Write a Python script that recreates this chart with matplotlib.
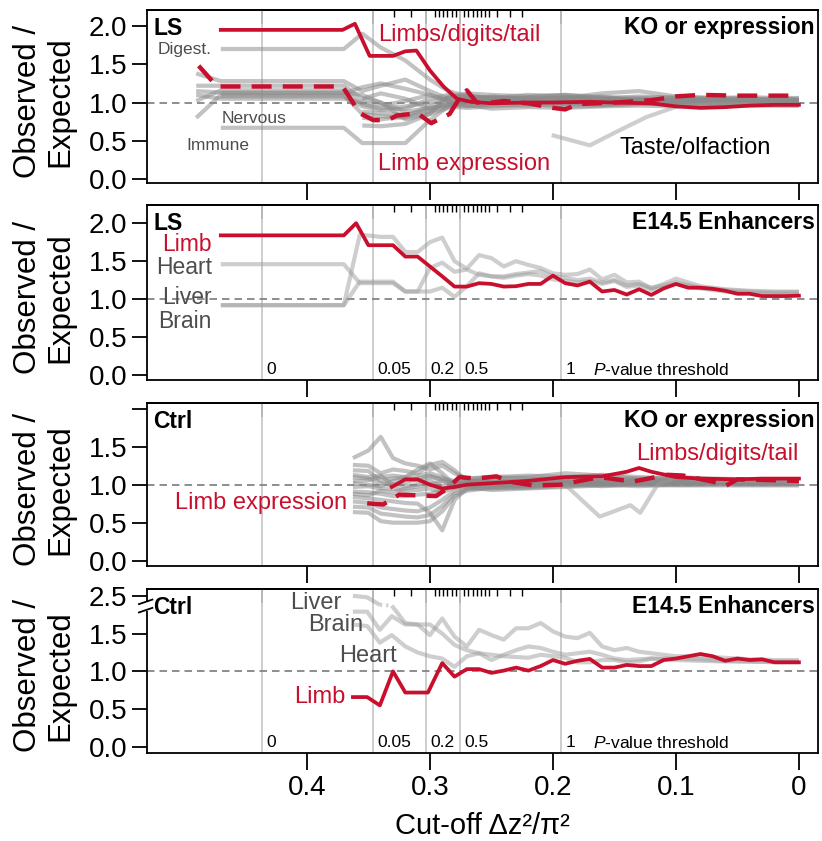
import numpy as np
import matplotlib
matplotlib.use("Agg")
import matplotlib.pyplot as plt
from matplotlib.lines import Line2D
from matplotlib.patches import Rectangle

plt.rcParams['font.family'] = ['Liberation Sans', 'DejaVu Sans']
plt.rcParams['mathtext.fontset'] = 'custom'
plt.rcParams['mathtext.rm'] = 'Liberation Sans'
plt.rcParams['mathtext.it'] = 'Liberation Sans:italic'

nan = np.nan

# ---------------- shared axis data ----------------
x_ticks = [0.4, 0.3, 0.2, 0.1, 0.0]
x_tick_labels = ['0.4', '0.3', '0.2', '0.1', '0']
pval_pos = [0.4366, 0.3463, 0.3033, 0.2756, 0.1935]
pval_labels = ['0', '0.05', '0.2', '0.5', '1']
pval_minor = [0.3293, 0.3154, 0.2959, 0.2927, 0.2894, 0.2862, 0.2821, 0.2789,
              0.2724, 0.2691, 0.2650, 0.2618, 0.2585, 0.2553, 0.2520, 0.2455,
              0.2350, 0.2252]

# ---------------- panel 1: LS, KO or expression ----------------
p1_gx = [0.49, 0.47, 0.37, 0.355, 0.34, 0.32, 0.30, 0.285, 0.27, 0.25, 0.22,
         0.19, 0.16, 0.13, 0.10, 0.07, 0.04, 0.02, 0.0]
p1_gray = [
    [nan, 1.70, 1.70, 1.90, 1.72, 1.55, 1.30, 1.15, 1.08, 1.06, 1.10, 1.08, 1.05, 1.04, 1.05, 1.03, 1.04, 1.03, 1.03],
    [1.38, 1.28, 1.28, 1.15, 1.22, 1.30, 1.15, 1.05, 1.04, 1.08, 1.05, 1.06, 1.12, 1.15, 1.08, 1.06, 1.05, 1.05, 1.05],
    [1.22, 1.22, 1.22, 1.05, 1.12, 1.05, 0.92, 0.98, 1.02, 1.00, 1.03, 0.98, 1.00, 1.02, 1.00, 1.01, 1.00, 1.00, 1.00],
    [1.02, 1.16, 1.16, 0.98, 0.92, 0.95, 1.00, 1.06, 1.10, 1.05, 1.07, 1.10, 1.06, 1.03, 1.02, 1.04, 1.02, 1.02, 1.02],
    [1.15, 1.13, 1.13, 1.10, 1.00, 0.88, 0.93, 0.97, 0.95, 0.97, 0.96, 0.99, 0.97, 0.98, 0.99, 0.98, 0.98, 0.98, 0.98],
    [0.80, 1.10, 1.10, 0.85, 0.82, 0.80, 0.88, 0.95, 0.93, 0.95, 0.98, 0.95, 0.96, 0.99, 0.97, 0.97, 0.96, 0.96, 0.96],
    [nan, 0.67, 0.67, 0.47, 0.47, 0.47, 0.77, 0.95, 1.00, 1.02, 0.99, 1.02, 1.03, 1.00, 1.01, 1.00, 1.01, 1.01, 1.01],
    [nan, nan, nan, 0.88, 0.86, 0.84, 0.90, 1.00, 0.97, 0.92, 0.94, 0.93, 0.95, 0.96, 0.95, 0.97, 0.97, 0.97, 0.97],
    [nan, nan, nan, 0.70, 0.69, 0.72, 0.85, 0.93, 1.05, 1.07, 1.04, 1.05, 1.08, 1.02, 1.04, 1.03, 1.03, 1.03, 1.03],
    [nan, nan, nan, 1.05, 1.00, 0.78, 0.85, 1.08, 1.12, 1.10, 1.08, 1.10, 1.07, 1.06, 1.07, 1.06, 1.07, 1.06, 1.06],
    [nan, 1.12, 1.12, 1.20, 1.25, 1.18, 1.10, 1.02, 1.00, 1.03, 1.06, 1.04, 1.03, 1.05, 1.03, 1.04, 1.03, 1.03, 1.03],
    [nan, 1.08, 1.08, 0.95, 0.90, 0.92, 1.05, 1.10, 1.06, 1.02, 1.00, 1.03, 1.01, 1.02, 1.01, 1.02, 1.02, 1.01, 1.01],
    [1.10, 1.05, 1.05, 1.00, 0.96, 1.02, 1.10, 1.02, 0.96, 0.98, 1.01, 1.00, 0.99, 1.00, 0.99, 1.00, 0.99, 0.99, 0.99],
    [nan, nan, nan, 0.80, 0.78, 0.82, 0.95, 1.05, 1.08, 1.05, 1.02, 1.07, 1.05, 1.08, 1.06, 1.05, 1.05, 1.04, 1.04],
]
p1_taste_x = [0.201, 0.170, 0.148, 0.124, 0.099, 0.07, 0.04, 0.0]
p1_taste_y = [0.575, 0.44, 0.62, 0.81, 0.95, 0.98, 0.97, 0.96]
p1_limbs_x = [0.47, 0.371, 0.361, 0.349, 0.33, 0.32, 0.311, 0.30, 0.289, 0.278, 0.267,
              0.25, 0.22, 0.20, 0.17, 0.15, 0.12, 0.10, 0.08, 0.06, 0.04, 0.02, 0.0]
p1_limbs_y = [1.95, 1.95, 2.03, 1.61, 1.61, 1.67, 1.68, 1.42, 1.21, 1.05, 1.01,
              0.99, 1.00, 1.00, 1.01, 1.00, 0.99, 0.95, 0.93, 0.94, 0.96, 0.97, 0.97]
p1_expr_x = [0.488, 0.473, 0.371, 0.357, 0.346, 0.334, 0.327, 0.31, 0.299, 0.284, 0.277,
             0.270, 0.262, 0.25, 0.24, 0.22, 0.20, 0.19, 0.18, 0.15, 0.12, 0.10, 0.08, 0.05, 0.0]
p1_expr_y = [1.48, 1.21, 1.21, 0.86, 0.77, 0.77, 0.83, 0.86, 0.73, 0.85, 1.03,
             1.16, 1.00, 1.00, 1.02, 0.99, 0.93, 0.91, 0.98, 1.00, 1.03, 1.08, 1.10, 1.09, 1.09]

# ---------------- panel 2: LS, E14.5 Enhancers ----------------
p2_gx = [0.47, 0.37, 0.357, 0.34, 0.33, 0.32, 0.31, 0.30, 0.29, 0.28, 0.27, 0.26, 0.25,
         0.24, 0.23, 0.22, 0.21, 0.20, 0.19, 0.18, 0.17, 0.16, 0.15, 0.14, 0.13, 0.12,
         0.11, 0.10, 0.08, 0.06, 0.04, 0.02, 0.0]
p2_liver = [0.92, 0.92, 1.85, 1.82, 1.82, 1.62, 1.62, 1.75, 1.81, 1.50, 1.40, 1.58, 1.54,
            1.43, 1.50, 1.45, 1.41, 1.34, 1.32, 1.33, 1.39, 1.26, 1.32, 1.22, 1.23, 1.14,
            1.20, 1.27, 1.17, 1.13, 1.11, 1.10, 1.10]
p2_heart = [1.46, 1.46, 1.21, 1.21, 1.21, 1.10, 1.10, 1.41, 1.48, 1.36, 1.39, 1.32, 1.30,
            1.30, 1.33, 1.35, 1.37, 1.30, 1.28, 1.25, 1.27, 1.22, 1.25, 1.18, 1.20, 1.15,
            1.18, 1.22, 1.15, 1.12, 1.10, 1.09, 1.09]
p2_brain = [0.92, 0.92, 1.23, 1.23, 1.23, 1.10, 1.10, 1.10, 1.15, 1.03, 1.17, 1.34, 1.30,
            1.28, 1.31, 1.33, 1.31, 1.26, 1.24, 1.22, 1.24, 1.20, 1.24, 1.16, 1.18, 1.12,
            1.15, 1.20, 1.14, 1.10, 1.08, 1.07, 1.07]
p2_limb_x = [0.47, 0.37, 0.36, 0.35, 0.34, 0.33, 0.32, 0.31, 0.30, 0.29, 0.28, 0.27, 0.26,
             0.25, 0.24, 0.23, 0.22, 0.21, 0.20, 0.19, 0.18, 0.17, 0.16, 0.15, 0.14, 0.13,
             0.12, 0.11, 0.10, 0.09, 0.08, 0.07, 0.06, 0.05, 0.04, 0.03, 0.02, 0.01, 0.0]
p2_limb_y = [1.84, 1.84, 2.00, 1.71, 1.71, 1.71, 1.56, 1.56, 1.43, 1.30, 1.165, 1.165, 1.21,
             1.20, 1.165, 1.17, 1.20, 1.20, 1.31, 1.21, 1.18, 1.23, 1.10, 1.12, 1.06, 1.13,
             1.055, 1.14, 1.20, 1.15, 1.15, 1.135, 1.11, 1.07, 1.07, 1.04, 1.04, 1.04, 1.045]

# ---------------- panel 3: Ctrl, KO or expression ----------------
p3_gx = [0.3626, 0.35, 0.34, 0.33, 0.32, 0.31, 0.30, 0.29, 0.28, 0.27, 0.25, 0.22, 0.19,
         0.16, 0.13, 0.10, 0.07, 0.04, 0.02, 0.0]
p3_gray = [
    [1.35, 1.45, 1.63, 1.35, 1.28, 1.25, 1.20, 1.25, 1.15, 1.08, 1.10, 1.12, 1.10, 1.13, 1.10, 1.08, 1.07, 1.06, 1.06, 1.06],
    [1.26, 1.25, 1.15, 1.20, 1.18, 1.15, 1.26, 1.30, 1.19, 1.05, 1.03, 1.06, 1.08, 1.05, 1.08, 1.06, 1.05, 1.05, 1.05, 1.05],
    [1.19, 1.18, 1.05, 1.08, 1.10, 1.12, 1.15, 1.10, 1.00, 1.02, 1.06, 1.04, 1.02, 1.06, 1.04, 1.05, 1.04, 1.04, 1.04, 1.04],
    [1.13, 1.10, 1.12, 1.00, 0.98, 1.00, 1.05, 0.98, 1.02, 1.06, 1.04, 1.00, 1.05, 1.00, 1.02, 1.03, 1.03, 1.03, 1.03, 1.03],
    [0.97, 0.98, 0.95, 0.95, 0.92, 0.93, 0.95, 0.90, 0.96, 0.98, 1.00, 0.98, 1.00, 1.03, 1.00, 1.02, 1.02, 1.02, 1.02, 1.02],
    [0.91, 0.90, 0.88, 0.85, 0.85, 0.87, 0.88, 0.93, 0.98, 1.00, 0.97, 0.99, 1.02, 0.98, 1.01, 1.00, 1.01, 1.01, 1.01, 1.01],
    [0.84, 0.82, 0.80, 0.78, 0.76, 0.75, 0.63, 0.40, 0.80, 0.95, 0.95, 0.96, 0.98, 1.00, 0.98, 1.00, 1.00, 1.00, 1.00, 1.00],
    [0.78, 0.76, 0.70, 0.68, 0.66, 0.65, 0.70, 0.80, 0.92, 0.97, 0.93, 0.95, 0.97, 0.99, 1.00, 0.99, 0.99, 0.99, 0.99, 0.99],
    [0.71, 0.70, 0.62, 0.60, 0.58, 0.57, 0.60, 0.72, 0.88, 0.94, 0.98, 1.02, 0.99, 1.01, 1.03, 1.02, 1.02, 1.02, 1.02, 1.02],
    [0.64, 0.63, 0.52, 0.50, 0.50, 0.50, 0.52, 0.65, 0.85, 0.92, 0.96, 0.97, 1.00, 1.02, 1.05, 1.03, 1.04, 1.04, 1.04, 1.04],
    [1.05, 1.06, 1.10, 1.12, 1.10, 1.20, 1.28, 1.15, 1.00, 1.05, 1.08, 1.10, 1.15, 1.12, 1.08, 1.10, 1.08, 1.07, 1.07, 1.07],
    [1.02, 1.00, 0.98, 1.05, 1.08, 1.05, 1.10, 1.08, 1.05, 1.08, 1.10, 1.08, 1.06, 1.08, 1.06, 1.07, 1.06, 1.06, 1.06, 1.06],
    [0.88, 0.86, 0.92, 0.90, 0.95, 0.98, 1.00, 1.05, 1.02, 1.00, 1.02, 1.03, 1.05, 1.02, 1.04, 1.03, 1.03, 1.03, 1.03, 1.03],
    [1.10, 1.08, 1.02, 1.00, 1.03, 1.08, 1.12, 1.05, 0.98, 1.03, 1.01, 1.00, 1.03, 1.05, 1.02, 1.04, 1.03, 1.02, 1.02, 1.02],
]
p3_out_x = [0.19, 0.162, 0.137, 0.129, 0.115, 0.10, 0.07, 0.0]
p3_out_y = [1.00, 0.58, 0.73, 0.63, 1.00, 1.10, 1.05, 1.05]
p3_limbs_x = [0.331, 0.32, 0.31, 0.30, 0.29, 0.28, 0.27, 0.25, 0.22, 0.19, 0.16, 0.14,
              0.13, 0.12, 0.10, 0.08, 0.05, 0.03, 0.0]
p3_limbs_y = [0.97, 1.07, 1.07, 1.00, 0.95, 0.97, 1.00, 1.02, 1.05, 1.10, 1.11, 1.17,
              1.22, 1.17, 1.10, 1.08, 1.07, 1.08, 1.08]
p3_expr_x = [0.351, 0.338, 0.325, 0.311, 0.295, 0.286, 0.276, 0.262, 0.246, 0.235, 0.216,
             0.194, 0.162, 0.135, 0.107, 0.094, 0.07, 0.059, 0.05, 0.0]
p3_expr_y = [0.755, 0.74, 0.87, 0.86, 0.85, 0.95, 1.10, 1.08, 1.11, 1.04, 0.99,
             1.00, 1.10, 1.04, 1.13, 1.12, 1.04, 0.99, 1.07, 1.05]

# ---------------- panel 4: Ctrl, E14.5 Enhancers ----------------
p4_gx = [0.3626, 0.351, 0.3407, 0.331, 0.32, 0.31, 0.30, 0.29, 0.28, 0.27, 0.26, 0.25,
         0.24, 0.23, 0.22, 0.21, 0.20, 0.19, 0.18, 0.17, 0.16, 0.15, 0.14, 0.13, 0.12,
         0.10, 0.08, 0.06, 0.04, 0.02, 0.0]
p4_liver_top_x = [0.3626, 0.351, 0.3407]
p4_liver_top_y = [2.00, 1.98, 1.88]
p4_liver_gap_x = [0.3407, 0.331]
p4_liver_gap_y = [1.88, 1.87]
p4_liver = [nan, nan, nan, 1.87, 1.64, 1.62, 1.48, 1.70, 1.46, 1.33, 1.55, 1.48,
            1.42, 1.57, 1.57, 1.64, 1.53, 1.46, 1.44, 1.51, 1.33, 1.28, 1.31, 1.26, 1.24,
            1.20, 1.20, 1.18, 1.16, 1.15, 1.15]
p4_brain = [1.79, 1.79, 1.55, 1.73, 1.62, 1.62, 1.62, 1.50, 1.35, 1.28, 1.24, 1.15,
            1.22, 1.28, 1.33, 1.31, 1.26, 1.22, 1.24, 1.26, 1.22, 1.17, 1.15, 1.16, 1.17,
            1.15, 1.14, 1.13, 1.13, 1.13, 1.13]
p4_heart = [1.62, 1.60, 1.38, 1.48, 1.33, 1.25, 1.20, 1.17, 1.06, 1.20, 1.24, 1.22,
            1.20, 1.19, 1.18, 1.22, 1.20, 1.18, 1.12, 1.12, 1.15, 1.15, 1.12, 1.13, 1.17,
            1.17, 1.16, 1.14, 1.13, 1.12, 1.12]
p4_limb_x = [0.3626, 0.351, 0.3407, 0.33, 0.32, 0.31, 0.3016, 0.29, 0.28, 0.27, 0.26,
             0.25, 0.24, 0.23, 0.22, 0.21, 0.20, 0.19, 0.18, 0.17, 0.16, 0.15, 0.14, 0.13,
             0.12, 0.11, 0.10, 0.09, 0.08, 0.07, 0.06, 0.05, 0.04, 0.03, 0.02, 0.01, 0.0]
p4_limb_y = [0.66, 0.66, 0.55, 1.00, 0.72, 0.72, 0.72, 1.11, 0.93, 1.03, 1.03,
             0.98, 1.01, 1.05, 1.01, 1.07, 1.15, 1.10, 1.14, 1.165, 1.05, 1.05, 1.085, 1.07,
             1.07, 1.15, 1.17, 1.20, 1.23, 1.20, 1.14, 1.17, 1.15, 1.16, 1.12, 1.12, 1.12]

# ---------------- styles ----------------
RED = '#c8102e'
GRAY_LINE = '#9a9a9a'
GRAY_TXT = '#4d4d4d'
G_KW = dict(color=GRAY_LINE, lw=3.0, alpha=0.48, solid_capstyle='butt', solid_joinstyle='round', zorder=2)
GB_KW = dict(color='#8a8a8a', lw=3.0, alpha=0.52, solid_capstyle='butt', solid_joinstyle='round', zorder=2)
RS_KW = dict(color=RED, lw=2.7, solid_joinstyle='round', zorder=4)
RD_KW = dict(color=RED, lw=3.2, ls=(0, (4.5, 2.5)), zorder=4)

W, H = 822, 841
fig = plt.figure(figsize=(W / 100, H / 100), dpi=100)


def add_axes(top, bottom):
    return fig.add_axes([147 / W, 1 - bottom / H, (818 - 147) / W, (bottom - top) / H])


ax1 = add_axes(10, 183)
ax2 = add_axes(205, 380)
ax3 = add_axes(403, 566)
ax4 = add_axes(589, 753)
axes = [ax1, ax2, ax3, ax4]
ylims = [(-0.052, 2.21), (-0.066, 2.24), (-0.07, 2.075), (-0.08, 2.09)]

for ax, yl in zip(axes, ylims):
    ax.set_xlim(0.530, -0.0155)
    ax.set_ylim(*yl)
    for v in pval_pos:
        ax.axvline(v, color='#c9c9c9', lw=1.3, zorder=1)
    ax.axhline(1.0, color='#7a7a7a', lw=1.2, ls=(0, (4.5, 3)), zorder=1.5)
    ax.set_xticks(x_ticks)
    ax.set_xticklabels(x_tick_labels)
    ax.tick_params(axis='x', direction='out', length=12, width=1.3, labelsize=20,
                   pad=4, labelbottom=False, top=False)
    ax.tick_params(axis='y', direction='out', length=11, width=1.3, labelsize=20, pad=3)
    for sp in ax.spines.values():
        sp.set_linewidth(1.3)
    sec = ax.secondary_xaxis('top')
    sec.set_xticks(pval_pos)
    sec.set_xticklabels([''] * len(pval_pos))
    sec.set_xticks(pval_minor, minor=True)
    sec.tick_params(which='major', direction='in', length=10, width=1.3)
    sec.tick_params(which='minor', direction='in', length=5, width=1.0)
    sec.spines['top'].set_linewidth(1.3)

for ax in (ax1, ax2):
    ax.set_yticks([0, 0.5, 1.0, 1.5, 2.0])
    ax.set_yticklabels(['0.0', '0.5', '1.0', '1.5', '2.0'])
ax3.set_yticks([0, 0.5, 1.0, 1.5, 2.0])
ax3.set_yticklabels(['0.0', '0.5', '1.0', '1.5', ''])
ax4.set_yticks([0, 0.5, 1.0, 1.5, 2.0])
ax4.set_yticklabels(['0.0', '0.5', '1.0', '1.5', '2.5'])
ax4.tick_params(axis='x', labelbottom=True)


def corner_labels(ax, left, right):
    ax.annotate(left, xy=(0, 1), xycoords='axes fraction', xytext=(4.5, -13),
                textcoords='offset points', ha='left', va='center',
                fontsize=16.5, fontweight='bold', zorder=6)
    ax.annotate(right, xy=(1, 1), xycoords='axes fraction', xytext=(-2.5, -12.5),
                textcoords='offset points', ha='right', va='center',
                fontsize=16.5, fontweight='bold', zorder=6)


def pvalue_labels(ax):
    for v, lab in zip(pval_pos, pval_labels):
        ax.annotate(lab, xy=(v, 0), xycoords=('data', 'axes fraction'), xytext=(3.5, 7.5),
                    textcoords='offset points', ha='left', va='center', fontsize=12.5)
    ax.annotate(r'$P$-value threshold', xy=(0.1675, 0), xycoords=('data', 'axes fraction'),
                xytext=(0, 7.5), textcoords='offset points', ha='left', va='center', fontsize=12.5)


# ---- panel 1 ----
for g in p1_gray:
    ax1.plot(p1_gx, g, **GB_KW)
ax1.plot(p1_taste_x, p1_taste_y, **G_KW)
ax1.plot(p1_limbs_x, p1_limbs_y, **RS_KW)
ax1.plot(p1_expr_x, p1_expr_y, **RD_KW)
corner_labels(ax1, 'LS', 'KO or expression')
ax1.text(0.521, 1.70, 'Digest.', color=GRAY_TXT, fontsize=12.5, ha='left', va='center')
ax1.text(0.469, 0.79, 'Nervous', color=GRAY_TXT, fontsize=12.5, ha='left', va='center')
ax1.text(0.4976, 0.435, 'Immune', color=GRAY_TXT, fontsize=12.5, ha='left', va='center')
ax1.text(0.342, 1.88, 'Limbs/digits/tail', color=RED, fontsize=17, ha='left', va='center')
ax1.text(0.342, 0.20, 'Limb expression', color=RED, fontsize=17, ha='left', va='center')
ax1.text(0.1455, 0.40, 'Taste/olfaction', color='black', fontsize=17, ha='left', va='center')

# ---- panel 2 ----
for g in (p2_liver, p2_heart, p2_brain):
    ax2.plot(p2_gx, g, **G_KW)
ax2.plot(p2_limb_x, p2_limb_y, **RS_KW)
corner_labels(ax2, 'LS', 'E14.5 Enhancers')
pvalue_labels(ax2)
ax2.text(0.4772, 1.72, 'Limb', color=RED, fontsize=16.5, ha='right', va='center')
ax2.text(0.4772, 1.41, 'Heart', color=GRAY_TXT, fontsize=16.5, ha='right', va='center')
ax2.text(0.4772, 1.02, 'Liver', color=GRAY_TXT, fontsize=16.5, ha='right', va='center')
ax2.text(0.4772, 0.71, 'Brain', color=GRAY_TXT, fontsize=16.5, ha='right', va='center')

# ---- panel 3 ----
for g in p3_gray:
    ax3.plot(p3_gx, g, **GB_KW)
ax3.plot(p3_out_x, p3_out_y, **G_KW)
ax3.plot(p3_limbs_x, p3_limbs_y, **RS_KW)
ax3.plot(p3_expr_x, p3_expr_y, **RD_KW)
corner_labels(ax3, 'Ctrl', 'KO or expression')
ax3.text(0.3675, 0.755, 'Limb expression', color=RED, fontsize=17, ha='right', va='center')
ax3.text(0.0, 1.41, 'Limbs/digits/tail', color=RED, fontsize=17, ha='right', va='center')

# ---- panel 4 ----
ax4.plot(p4_liver_top_x, p4_liver_top_y, **G_KW)
ax4.plot(p4_liver_gap_x, p4_liver_gap_y, color=GRAY_LINE, lw=2.8, alpha=0.45,
         ls=(0, (0.6, 1.0)), zorder=2)
for g in (p4_liver, p4_brain, p4_heart):
    ax4.plot(p4_gx, g, **G_KW)
ax4.plot(p4_limb_x, p4_limb_y, **RS_KW)
corner_labels(ax4, 'Ctrl', 'E14.5 Enhancers')
pvalue_labels(ax4)
ax4.text(0.3715, 1.90, 'Liver', color=GRAY_TXT, fontsize=17, ha='right', va='center')
ax4.text(0.3545, 1.62, 'Brain', color=GRAY_TXT, fontsize=17, ha='right', va='center')
ax4.text(0.3268, 1.20, 'Heart', color=GRAY_TXT, fontsize=17, ha='right', va='center')
ax4.text(0.369, 0.66, 'Limb', color=RED, fontsize=17, ha='right', va='center')

# axis break marks on panel 4
ax4.add_patch(Rectangle((-0.02, 1.80), 0.03, 0.13, transform=ax4.get_yaxis_transform(),
                        facecolor='white', edgecolor='none', clip_on=False, zorder=10))
for yb in (1.81, 1.92):
    ax4.add_line(Line2D([-0.012, 0.008], [yb - 0.03, yb + 0.03], transform=ax4.get_yaxis_transform(),
                        color='black', lw=1.3, clip_on=False, zorder=11))

# axis titles
for ax, (t, b) in zip(axes, [(10, 183), (205, 380), (403, 566), (589, 753)]):
    yc = 1 - ((t + b) / 2 + 5) / H
    fig.text(44 / W, yc, 'Observed /\nExpected', rotation=90, ha='center', va='center',
             fontsize=22.5, linespacing=1.12, multialignment='center')
fig.text(482.5 / W, 1 - 826 / H, 'Cut-off \u0394z\u00b2/\u03c0\u00b2', ha='center', va='center',
         fontsize=21)

fig.savefig('out.png', dpi=100)
